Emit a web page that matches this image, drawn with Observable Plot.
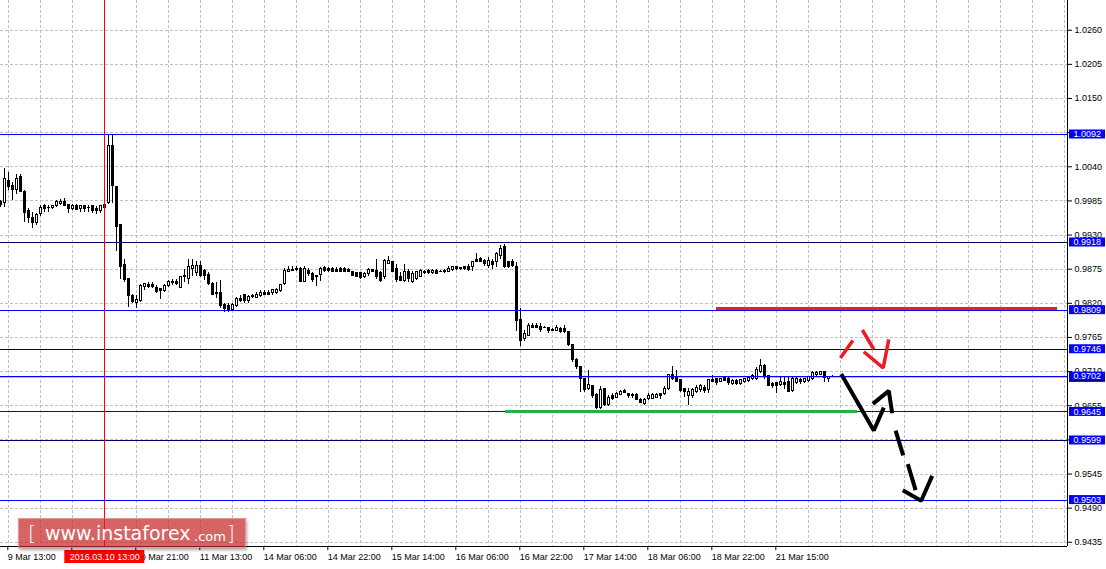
<!DOCTYPE html>
<html>
<head>
<meta charset="utf-8">
<script src="https://cdn.jsdelivr.net/npm/d3@7"></script>
<script src="https://cdn.jsdelivr.net/npm/@observablehq/plot@0.6"></script>
<style>
  html, body { margin: 0; padding: 0; background: #fff; }
  #wrap { position: relative; width: 1106px; height: 569px; overflow: hidden; }
  #logo {
    position: absolute; left: 18px; top: 518px; width: 228px; height: 30px;
    background: rgba(200, 40, 40, 0.72);
    border: 1px solid rgba(255,255,255,0.35);
    box-shadow: 1px 2px 3px rgba(0,0,0,0.35);
    box-sizing: border-box;
    font-family: "DejaVu Sans", Verdana, sans-serif; color: #fff;
  }
  #logo span { position: absolute; white-space: pre; line-height: 1; }
</style>
</head>
<body>
<div id="wrap"></div>
<script>
// ---- OHLC data (hourly bars), bar index 0 = leftmost visible bar ----
const openP = [
0.9983,0.9981,1.0017,1.0009,1.0003,1.0023,1.0000,0.9968,0.9958,0.9949,
0.9964,0.9977,0.9974,0.9973,0.9976,0.9980,0.9984,0.9978,0.9972,0.9977,
0.9972,0.9976,0.9974,0.9976,0.9972,0.9968,0.9979,0.9981,1.0073,1.0008,
0.9946,0.9882,0.9859,0.9832,0.9821,0.9824,0.9847,0.9850,0.9849,0.9845,
0.9843,0.9840,0.9848,0.9853,0.9855,0.9845,0.9864,0.9859,0.9875,0.9869,
0.9880,0.9872,0.9866,0.9851,0.9837,0.9837,0.9817,0.9816,0.9810,0.9816,
0.9827,0.9834,0.9824,0.9831,0.9829,0.9832,0.9836,0.9836,0.9836,0.9837,
0.9840,0.9851,0.9871,0.9872,0.9876,0.9875,0.9855,0.9872,0.9867,0.9864,
0.9865,0.9877,0.9875,0.9875,0.9874,0.9875,0.9876,0.9874,0.9871,0.9869,
0.9869,0.9862,0.9867,0.9873,0.9872,0.9869,0.9862,0.9884,0.9887,0.9876,
0.9863,0.9856,0.9871,0.9854,0.9859,0.9863,0.9871,0.9872,0.9869,0.9872,
0.9871,0.9872,0.9871,0.9874,0.9878,0.9877,0.9878,0.9879,0.9879,0.9890,
0.9891,0.9888,0.9880,0.9887,0.9886,0.9897,0.9910,0.9886,0.9887,0.9879,
0.9793,0.9762,0.9768,0.9784,0.9784,0.9782,0.9781,0.9780,0.9777,0.9776,
0.9779,0.9779,0.9773,0.9753,0.9729,0.9718,0.9698,0.9682,0.9686,0.9672,
0.9652,0.9682,0.9656,0.9671,0.9667,0.9673,0.9678,0.9674,0.9673,0.9672,
0.9664,0.9658,0.9666,0.9666,0.9668,0.9674,0.9674,0.9682,0.9704,0.9702,
0.9696,0.9682,0.9670,0.9670,0.9677,0.9681,0.9684,0.9681,0.9697,0.9698,
0.9693,0.9699,0.9698,0.9690,0.9695,0.9690,0.9693,0.9695,0.9698,0.9698,
0.9710,0.9719,0.9703,0.9690,0.9691,0.9688,0.9692,0.9693,0.9679,0.9692,
0.9696,0.9693,0.9695,0.9698,0.9704,0.9705,0.9709,0.9698,0.9702
];
const highP = [
0.9986,1.0037,1.0031,1.0015,1.0028,1.0027,1.0002,0.9972,0.9966,0.9965,
0.9977,0.9980,0.9977,0.9978,0.9985,0.9987,0.9989,0.9980,0.9979,0.9979,
0.9978,0.9978,0.9978,0.9978,0.9976,0.9978,0.9980,1.0092,1.0092,1.0009,
0.9946,0.9891,0.9860,0.9835,0.9832,0.9851,0.9852,0.9854,0.9854,0.9848,
0.9844,0.9851,0.9856,0.9859,0.9859,0.9864,0.9875,0.9891,0.9890,0.9887,
0.9887,0.9875,0.9870,0.9854,0.9854,0.9856,0.9819,0.9819,0.9819,0.9830,
0.9832,0.9835,0.9832,0.9835,0.9837,0.9841,0.9840,0.9840,0.9843,0.9844,
0.9851,0.9876,0.9880,0.9879,0.9879,0.9878,0.9879,0.9876,0.9870,0.9865,
0.9878,0.9880,0.9878,0.9878,0.9877,0.9878,0.9878,0.9876,0.9872,0.9870,
0.9870,0.9869,0.9876,0.9875,0.9890,0.9871,0.9891,0.9896,0.9888,0.9883,
0.9870,0.9883,0.9875,0.9871,0.9872,0.9875,0.9873,0.9874,0.9874,0.9874,
0.9873,0.9874,0.9879,0.9880,0.9879,0.9878,0.9879,0.9883,0.9888,0.9901,
0.9894,0.9891,0.9894,0.9891,0.9902,0.9913,0.9914,0.9888,0.9890,0.9886,
0.9811,0.9776,0.9787,0.9788,0.9787,0.9787,0.9783,0.9781,0.9780,0.9784,
0.9781,0.9784,0.9774,0.9754,0.9731,0.9719,0.9699,0.9711,0.9688,0.9674,
0.9686,0.9683,0.9671,0.9674,0.9676,0.9679,0.9681,0.9675,0.9675,0.9674,
0.9666,0.9667,0.9674,0.9675,0.9675,0.9675,0.9686,0.9706,0.9718,0.9711,
0.9698,0.9683,0.9683,0.9683,0.9688,0.9690,0.9687,0.9698,0.9703,0.9699,
0.9699,0.9701,0.9701,0.9697,0.9697,0.9698,0.9699,0.9702,0.9705,0.9717,
0.9730,0.9722,0.9704,0.9692,0.9693,0.9701,0.9701,0.9701,0.9701,0.9701,
0.9699,0.9699,0.9702,0.9710,0.9710,0.9710,0.9710,0.9702,0.9703
];
const lowP = [
0.9975,0.9975,1.0001,0.9985,0.9996,0.9999,0.9951,0.9949,0.9941,0.9946,
0.9960,0.9966,0.9966,0.9971,0.9974,0.9977,0.9976,0.9965,0.9970,0.9970,
0.9967,0.9966,0.9967,0.9964,0.9963,0.9964,0.9970,0.9979,0.9981,0.9903,
0.9859,0.9854,0.9813,0.9819,0.9811,0.9822,0.9840,0.9844,0.9844,0.9836,
0.9826,0.9837,0.9845,0.9849,0.9848,0.9844,0.9854,0.9851,0.9864,0.9864,
0.9862,0.9856,0.9848,0.9832,0.9827,0.9811,0.9805,0.9806,0.9808,0.9813,
0.9822,0.9820,0.9819,0.9827,0.9827,0.9830,0.9832,0.9832,0.9833,0.9835,
0.9837,0.9849,0.9870,0.9871,0.9871,0.9854,0.9853,0.9864,0.9854,0.9847,
0.9855,0.9870,0.9870,0.9870,0.9870,0.9870,0.9870,0.9869,0.9863,0.9861,
0.9859,0.9860,0.9864,0.9869,0.9859,0.9854,0.9859,0.9883,0.9870,0.9854,
0.9855,0.9854,0.9854,0.9852,0.9857,0.9862,0.9867,0.9867,0.9867,0.9867,
0.9869,0.9868,0.9870,0.9872,0.9873,0.9873,0.9873,0.9871,0.9871,0.9887,
0.9885,0.9880,0.9876,0.9875,0.9878,0.9891,0.9876,0.9876,0.9878,0.9774,
0.9750,0.9758,0.9767,0.9780,0.9779,0.9773,0.9779,0.9771,0.9775,0.9774,
0.9772,0.9771,0.9751,0.9725,0.9714,0.9677,0.9677,0.9679,0.9667,0.9649,
0.9649,0.9654,0.9654,0.9664,0.9666,0.9671,0.9674,0.9666,0.9666,0.9663,
0.9658,0.9656,0.9664,0.9665,0.9666,0.9665,0.9671,0.9679,0.9695,0.9692,
0.9677,0.9668,0.9656,0.9667,0.9675,0.9676,0.9674,0.9674,0.9693,0.9688,
0.9692,0.9694,0.9688,0.9688,0.9688,0.9688,0.9691,0.9693,0.9696,0.9695,
0.9707,0.9698,0.9686,0.9683,0.9675,0.9686,0.9681,0.9676,0.9677,0.9690,
0.9690,0.9691,0.9692,0.9695,0.9702,0.9704,0.9693,0.9692,0.9700
];
const closeP = [
0.9979,1.0020,1.0007,1.0003,1.0021,1.0000,0.9966,0.9958,0.9949,0.9962,
0.9974,0.9972,0.9973,0.9976,0.9984,0.9984,0.9977,0.9972,0.9977,0.9971,
0.9977,0.9972,0.9973,0.9969,0.9969,0.9977,0.9973,1.0073,1.0009,0.9943,
0.9879,0.9858,0.9832,0.9822,0.9825,0.9848,0.9851,0.9847,0.9847,0.9838,
0.9840,0.9848,0.9855,0.9855,0.9851,0.9862,0.9862,0.9879,0.9880,0.9880,
0.9864,0.9864,0.9851,0.9834,0.9835,0.9815,0.9811,0.9808,0.9817,0.9827,
0.9824,0.9824,0.9830,0.9830,0.9834,0.9837,0.9834,0.9834,0.9841,0.9842,
0.9849,0.9872,0.9873,0.9874,0.9873,0.9855,0.9876,0.9868,0.9858,0.9862,
0.9875,0.9872,0.9872,0.9871,0.9871,0.9871,0.9871,0.9870,0.9864,0.9862,
0.9860,0.9867,0.9874,0.9871,0.9862,0.9856,0.9888,0.9888,0.9871,0.9858,
0.9856,0.9871,0.9859,0.9868,0.9870,0.9872,0.9869,0.9869,0.9872,0.9868,
0.9870,0.9870,0.9876,0.9878,0.9875,0.9875,0.9875,0.9874,0.9887,0.9887,
0.9886,0.9883,0.9888,0.9882,0.9899,0.9908,0.9879,0.9879,0.9880,0.9792,
0.9760,0.9770,0.9784,0.9781,0.9780,0.9777,0.9780,0.9776,0.9776,0.9781,
0.9773,0.9773,0.9753,0.9728,0.9717,0.9698,0.9681,0.9688,0.9671,0.9652,
0.9680,0.9656,0.9667,0.9666,0.9674,0.9677,0.9675,0.9671,0.9671,0.9665,
0.9659,0.9665,0.9671,0.9672,0.9673,0.9671,0.9682,0.9704,0.9698,0.9693,
0.9679,0.9677,0.9677,0.9681,0.9683,0.9686,0.9679,0.9697,0.9693,0.9692,
0.9698,0.9695,0.9691,0.9695,0.9690,0.9696,0.9698,0.9700,0.9703,0.9713,
0.9719,0.9702,0.9687,0.9687,0.9687,0.9693,0.9689,0.9677,0.9698,0.9698,
0.9693,0.9698,0.9701,0.9707,0.9707,0.9709,0.9699,0.9701,0.9701
];

// ---- axes ----
const priceTicks = [1.0260,1.0205,1.0150,1.0095,1.0040,0.9985,0.9930,0.9875,0.9820,0.9765,0.9710,0.9655,0.9600,0.9545,0.9490,0.9435];
const timeTickBars = [2,18,34,50,66,82,98,114,130,146,162,178,194];
const timeTickLabels = ["9 Mar 13:00","10 Mar 05:00","10 Mar 21:00","11 Mar 13:00","14 Mar 06:00","14 Mar 22:00","15 Mar 14:00","16 Mar 06:00","16 Mar 22:00","17 Mar 14:00","18 Mar 06:00","18 Mar 22:00","21 Mar 15:00"];

// ---- horizontal levels ----
const levelPrices = [1.0092,0.9918,0.9809,0.9746,0.9702,0.9645,0.9599,0.9503];
const levelTone   = ["blue","dark","blue","dark","blue","blue","dark","blue"];
const bidPrice = 0.9700;

// ---- vertical marker ----
const markerBar = 26;
const markerLabel = "2016.03.10 13:00";

// ---- drawn zones ----
const resistZone = {price: 0.9811, from: 178.9, to: 264.2};
const supportZone = {price: 0.9645, from: 126.2, to: 214.2};

// ---- hand-drawn arrows: [bar, price] points ----
const blackStrokes = [
  [[210.1,0.9706],[218.25,0.9615],[220.75,0.9652]],
  [[218.0,0.9658],[222.0,0.9679],[222.85,0.9643]],
  [[223.7,0.9615],[225.6,0.9575]],
  [[226.75,0.9561],[228.7,0.9519]],
  [[225.5,0.9519],[230.1,0.9502],[232.85,0.9542]]
];
const redStrokes = [
  [[209.9,0.9732],[213.0,0.9760]],
  [[215.4,0.9777],[218.25,0.9746]],
  [[215.75,0.9742],[220.6,0.9716],[222.0,0.9762]]
];

// ---- build tables ----
const bars = openP.map((o, i) => ({i, o, h: highP[i], l: lowP[i], c: closeP[i]}));
const levels = levelPrices.map((p, k) => ({p, tone: levelTone[k], label: p.toFixed(4)}));
const blueLevels = levels.filter(d => d.tone === "blue");
const darkLevels = levels.filter(d => d.tone === "dark");
const upBars = bars.filter(d => d.c > d.o);
const downBars = bars.filter(d => d.c <= d.o);
const labelOf = new Map(timeTickBars.map((b, k) => [b, timeTickLabels[k]]));
const toPts = (strokes) => strokes.flatMap((s, k) => s.map(([i, p]) => ({i, p, k})));
const blackPts = toPts(blackStrokes);
const redPts = toPts(redStrokes);

const xDomain = [-0.075, 266.675];
const yDomain = [0.94282, 1.03079];
const xEnd = xDomain[1], yEnd = yDomain[0];
const gridBars = d3.range(2, 267, 8);

const font = "'Liberation Sans', Arial, sans-serif";
const crisp = "crispEdges";
const bodyOpts = (fill) => ({x1: d => d.i - 0.25, x2: d => d.i + 0.25, y1: "o", y2: "c", fill, stroke: "#000", shapeRendering: crisp});
const chart = Plot.plot({
  width: 1106, height: 569,
  marginLeft: 0, marginRight: 39, marginTop: 0, marginBottom: 23,
  x: {domain: xDomain, axis: null},
  y: {domain: yDomain, axis: null},
  style: {fontFamily: font, background: "#fff", color: "#000", overflow: "visible"},
  marks: [
    Plot.ruleY(priceTicks, {stroke: "#c0c0c0", strokeDasharray: "3,2", shapeRendering: crisp}),
    Plot.ruleX(gridBars, {stroke: "#c0c0c0", strokeDasharray: "3,2", shapeRendering: crisp}),
    Plot.ruleY([bidPrice], {stroke: "#bdbdbd", shapeRendering: crisp}),
    // candles
    Plot.ruleX(bars, {x: "i", y1: "l", y2: "h", stroke: "#000", shapeRendering: crisp}),
    Plot.rect(upBars, bodyOpts("#ffffff")),
    Plot.rect(downBars, bodyOpts("#000000")),
    // levels
    Plot.ruleY(blueLevels, {y: "p", stroke: "#0000ff", shapeRendering: crisp}),
    Plot.ruleY(darkLevels, {y: "p", stroke: "#000060", shapeRendering: crisp}),
    Plot.ruleX([markerBar], {stroke: "#ff0000", shapeRendering: crisp}),
    Plot.ruleY([resistZone], {y: "price", x1: "from", x2: "to", stroke: "#ed1c24", strokeWidth: 3, shapeRendering: crisp}),
    Plot.ruleY([supportZone], {y: "price", x1: "from", x2: "to", stroke: "#22b14c", strokeWidth: 3, shapeRendering: crisp}),
    // arrows
    Plot.line(redPts, {x: "i", y: "p", z: "k", stroke: "#ed1c24", strokeWidth: 3.5, strokeLinecap: "butt", strokeLinejoin: "miter"}),
    Plot.line(blackPts, {x: "i", y: "p", z: "k", stroke: "#000", strokeWidth: 4, strokeLinecap: "butt", strokeLinejoin: "miter"}),
    // axis lines
    Plot.ruleX([xEnd], {stroke: "#000", shapeRendering: crisp}),
    Plot.ruleY([yEnd], {stroke: "#000", shapeRendering: crisp}),
    Plot.axisY(priceTicks, {anchor: "right", tickSize: 4, tickPadding: 3, tickFormat: d => d.toFixed(4), fontSize: 9, fill: "#000", stroke: "#000"}),
    Plot.axisX(timeTickBars, {anchor: "bottom", tickSize: 4, tickPadding: 3, tickFormat: d => labelOf.get(d), textAnchor: "start", dx: -1, fontSize: 9, fill: "#000", stroke: "#000"}),
    // price boxes
    Plot.rect([bidPrice], {x1: () => xEnd, x2: () => xEnd, y1: d => d, y2: d => d, insetLeft: 2, insetRight: -38, insetTop: -4.5, insetBottom: -4.5, fill: "#000"}),
    Plot.rect(levels, {x1: () => xEnd, x2: () => xEnd, y1: "p", y2: "p", insetLeft: 2, insetRight: -38, insetTop: -4.5, insetBottom: -4.5, fill: "#0000ff"}),
    Plot.text(levels, {x: () => xEnd, y: "p", text: "label", dx: 6, textAnchor: "start", fill: "#fff", fontSize: 9}),
    // marker label
    Plot.rect([markerBar], {x1: d => d, x2: d => d, y1: () => yEnd, y2: () => yEnd, insetLeft: -40, insetRight: -40, insetTop: 4, insetBottom: -17, fill: "#ff0000"}),
    Plot.text([markerBar], {x: d => d, y: () => yEnd, dy: 10.5, text: () => markerLabel, fill: "#fff", fontSize: 9, textAnchor: "middle"})
  ]
});

const wrap = document.getElementById("wrap");
wrap.appendChild(chart);

// watermark logo (text)
const logo = document.createElement("div");
logo.id = "logo";
logo.innerHTML =
  '<span style="left:9px;top:4px;font-size:20px;font-weight:200;">[</span>' +
  '<span style="left:26px;top:5px;font-size:19px;">www.instaforex</span>' +
  '<span style="left:175px;top:11px;font-size:13px;">.com</span>' +
  '<span style="left:208px;top:4px;font-size:20px;font-weight:200;">]</span>';
wrap.appendChild(logo);
</script>
</body>
</html>
